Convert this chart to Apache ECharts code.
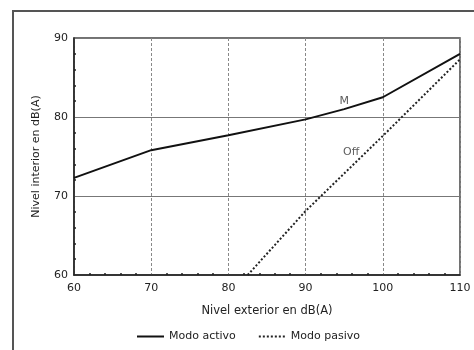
<!DOCTYPE html>
<html>
<head>
<meta charset="utf-8">
<script src="https://cdn.jsdelivr.net/npm/echarts@6/dist/echarts.min.js"></script>
<style>
  html, body { margin: 0; padding: 0; background: #fff; }
  #chart { width: 474px; height: 350px; }
</style>
</head>
<body>
<div id="chart"></div>
<script>
// datos
var activoX = [60, 70, 80, 90, 95, 100, 110];
var activoY = [72.3, 75.8, 77.7, 79.7, 81.0, 82.5, 88.0];
var pasivoX = [82.5, 90, 100, 110];
var pasivoY = [60, 68.1, 77.6, 87.3];
var notas = ['M', 'Off'];
var notasX = [95.0, 95.9];
var notasY = [82.0, 75.6];

var chart = echarts.init(document.getElementById('chart'));

function pares(xs, ys) {
  var out = [];
  for (var i = 0; i < xs.length; i++) out.push([xs[i], ys[i]]);
  return out;
}

var font = 'DejaVu Sans, Arial, sans-serif';

var option = {
  animation: false,
  textStyle: { fontFamily: font },
  graphic: [{
    type: 'rect',
    shape: { x: 13, y: 11, width: 480, height: 360 },
    style: { fill: 'none', stroke: '#555', lineWidth: 2 },
    silent: true
  }],
  grid: {
    left: 74, right: 14, top: 38, bottom: 75,
    show: true, borderColor: '#444', borderWidth: 1.5
  },
  legend: {
    left: 131, top: 326,
    itemWidth: 27, itemHeight: 10, itemGap: 22,
    itemStyle: { opacity: 0 },
    textStyle: { fontSize: 11, color: '#222', fontFamily: font },
    data: ['Modo activo', 'Modo pasivo']
  },
  xAxis: {
    type: 'value', min: 60, max: 110, interval: 10,
    name: 'Nivel exterior en dB(A)', nameLocation: 'middle', nameGap: 30,
    nameTextStyle: { fontSize: 11.5, color: '#222' },
    axisLine: { lineStyle: { color: '#222', width: 1.5 } },
    axisTick: { show: false, inside: true },
    minorTick: { show: true, splitNumber: 5, length: 2, lineStyle: { color: '#222', width: 1.5 } },
    axisLabel: { fontSize: 11, color: '#222', margin: 8 },
    splitLine: { lineStyle: { color: '#888', type: [3, 2], width: 1 } }
  },
  yAxis: {
    type: 'value', min: 60, max: 90, interval: 10,
    name: 'Nivel interior en dB(A)', nameLocation: 'middle', nameGap: 32,
    nameTextStyle: { fontSize: 11, color: '#222' },
    axisLine: { lineStyle: { color: '#222', width: 1.5 } },
    axisTick: { show: false, inside: true },
    minorTick: { show: true, splitNumber: 5, length: 2, lineStyle: { color: '#222', width: 1.5 } },
    axisLabel: { fontSize: 11, color: '#222', margin: 6 },
    splitLine: { lineStyle: { color: '#777', width: 1 } }
  },
  series: [
    {
      name: 'Modo activo', type: 'line', symbol: 'none', smooth: false,
      data: pares(activoX, activoY),
      lineStyle: { color: '#111', width: 2 },
      itemStyle: { color: '#111' }
    },
    {
      name: 'Modo pasivo', type: 'line', symbol: 'none',
      data: pares(pasivoX, pasivoY),
      lineStyle: { color: '#222', width: 2, type: [2, 2] },
      itemStyle: { color: '#222' }
    },
    {
      name: 'notas', type: 'scatter', symbolSize: 0, silent: true,
      data: pares(notasX, notasY).map(function (p, i) {
        return { value: p, name: notas[i] };
      }),
      label: {
        show: true, position: 'inside', formatter: '{b}',
        fontSize: 11, color: '#333', fontFamily: font
      }
    }
  ]
};

chart.setOption(option);
</script>
</body>
</html>
